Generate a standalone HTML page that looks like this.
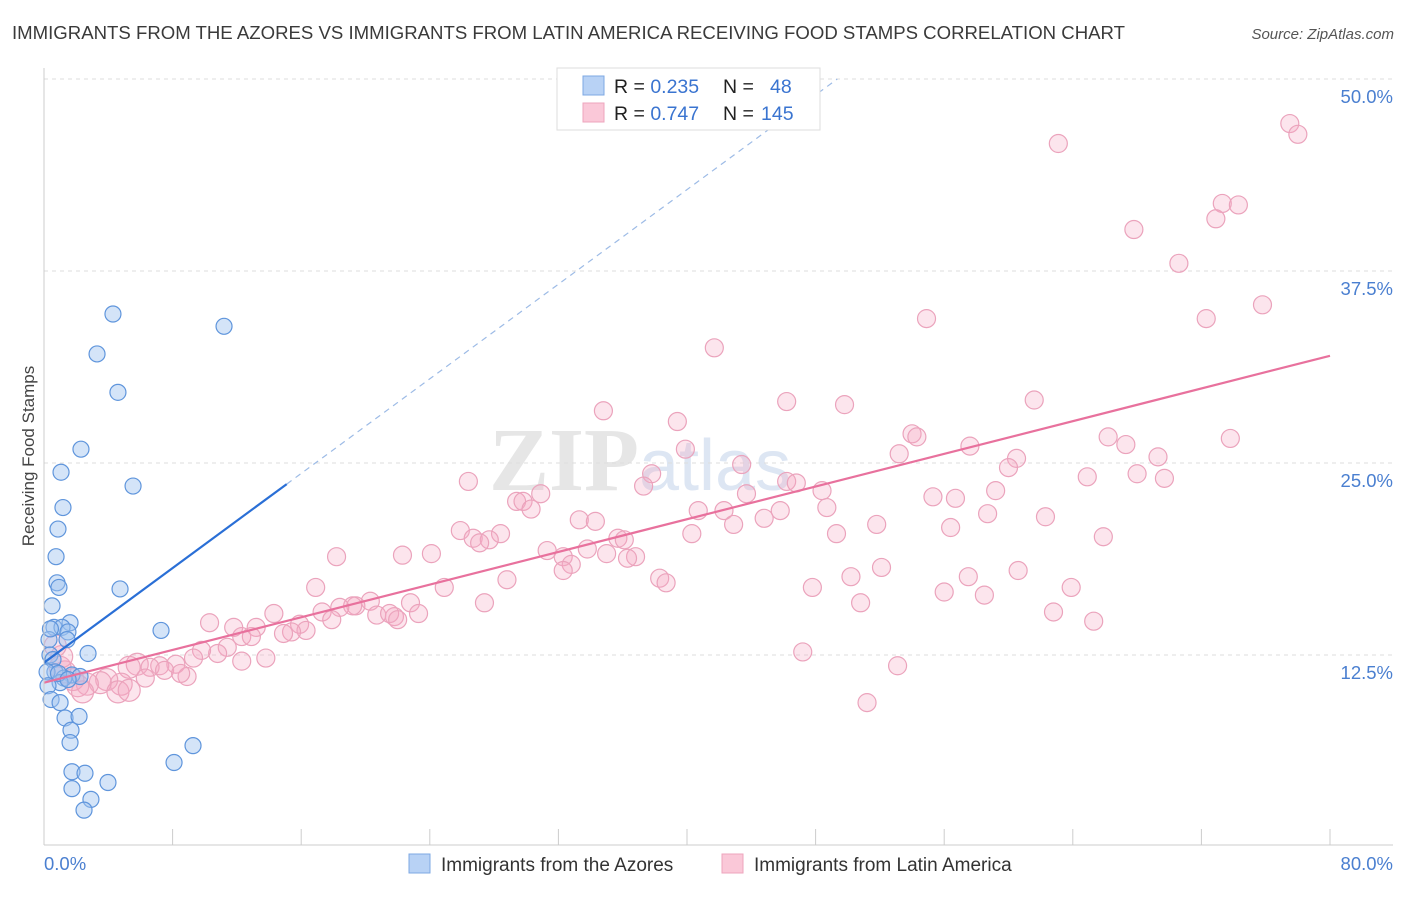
<!DOCTYPE html>
<html><head><meta charset="utf-8"><style>
body{margin:0;background:#fff;font-family:"Liberation Sans",sans-serif}
#c{position:relative;width:1406px;height:892px}
</style></head><body>
<div id="c">
<svg id="s" width="1406" height="892" xmlns="http://www.w3.org/2000/svg">
<text x="12" y="39" font-size="18.6" fill="#3a3a3a">IMMIGRANTS FROM THE AZORES VS IMMIGRANTS FROM LATIN AMERICA RECEIVING FOOD STAMPS CORRELATION CHART</text>
<text x="1394" y="39" font-size="15" fill="#555" font-style="italic" text-anchor="end">Source: ZipAtlas.com</text>
<text transform="translate(34,456) rotate(-90)" font-size="17" fill="#444" text-anchor="middle">Receiving Food Stamps</text>
<text x="640" y="490" font-size="90" fill="#e6e6e6" font-family="Liberation Serif" font-weight="bold" text-anchor="middle">ZIP<tspan fill="#dde6f3" font-family="Liberation Sans" font-weight="normal" font-size="72">atlas</tspan></text>
<g id="grid"></g><g id="pts"></g><g id="lines"></g>
<line x1="44" y1="68" x2="44" y2="845" stroke="#ccc"/>
<line x1="44" y1="845" x2="1393" y2="845" stroke="#ccc"/>
<text x="44" y="870" font-size="18.5" fill="#4a7fd0">0.0%</text>
<text x="1393" y="870" font-size="18.5" fill="#4a7fd0" text-anchor="end">80.0%</text>
<g>
<rect x="557" y="68" width="263" height="62" fill="#fff" stroke="#ddd"/>
<rect x="583" y="76" width="21" height="19" fill="#b8d2f5" stroke="#7ea8e3"/>
<rect x="583" y="103" width="21" height="19" fill="#fac8d8" stroke="#eea5bd"/>
<text x="614" y="93" font-size="19.5" fill="#222">R = <tspan fill="#3a74d0">0.235</tspan><tspan x="723">N = </tspan><tspan x="770" fill="#3a74d0">48</tspan></text>
<text x="614" y="120" font-size="19.5" fill="#222">R = <tspan fill="#3a74d0">0.747</tspan><tspan x="723">N = </tspan><tspan x="761" fill="#3a74d0">145</tspan></text>
</g>
<g>
<rect x="409" y="854" width="21" height="19" fill="#b8d2f5" stroke="#7ea8e3"/>
<text x="441" y="871" font-size="19" fill="#333">Immigrants from the Azores</text>
<rect x="722" y="854" width="21" height="19" fill="#fac8d8" stroke="#eea5bd"/>
<text x="754" y="871" font-size="19" fill="#333">Immigrants from Latin America</text>
</g>
</svg></div>
<script>
const yTicks=[12.5,25,37.5,50];
const yTickLabels=["12.5%","25.0%","37.5%","50.0%"];
const xTicks=[8,16,24,32,40,48,56,64,72,80];
const blueX=[4.29,11.2,3.3,4.6,2.3,1.06,5.54,1.18,0.87,0.75,0.81,0.93,4.73,0.5,1.62,0.62,1.12,1.49,1.43,7.28,0.31,2.74,0.37,0.56,0.68,0.19,1.74,2.24,1.24,1.0,0.25,0.44,1.0,1.31,2.18,1.68,1.62,9.27,1.74,2.55,8.09,3.98,1.74,2.92,2.49,0.4,0.9,1.5];
const blueY=[34.7,33.9,32.1,29.6,25.9,24.4,23.5,22.1,20.7,18.9,17.2,16.9,16.8,15.7,14.6,14.3,14.3,14.0,13.5,14.1,13.5,12.6,12.5,12.2,11.4,11.4,11.2,11.1,11.0,10.7,10.5,9.6,9.4,8.4,8.5,7.6,6.8,6.6,4.9,4.8,5.5,4.2,3.8,3.1,2.4,14.2,11.3,10.9];
const pinkX=[77.5,78.0,63.1,73.3,74.3,72.9,67.8,70.6,54.9,72.3,75.8,41.7,46.2,61.6,49.8,34.8,39.4,54.0,54.3,66.2,67.3,73.8,57.6,39.9,53.2,69.3,60.5,60.0,43.4,37.8,68.0,64.9,69.7,26.4,37.3,46.2,46.8,48.4,43.7,59.2,30.9,55.3,56.7,29.4,29.8,30.3,48.7,40.7,42.3,45.8,58.7,62.3,44.8,33.3,34.3,42.9,25.9,51.8,56.4,40.3,49.3,28.4,26.7,27.7,27.1,35.7,36.1,65.9,18.2,31.3,33.8,35.0,36.8,24.1,22.3,36.3,32.3,32.8,32.3,28.8,38.3,24.9,16.9,38.7,52.1,50.2,57.5,60.6,47.8,63.9,56.0,58.5,22.8,23.3,27.4,20.3,19.4,19.2,18.4,17.3,14.3,20.7,21.8,21.5,22.0,17.9,50.8,62.8,65.3,15.9,16.3,15.4,14.9,10.3,11.8,13.2,12.3,11.4,12.9,10.8,9.8,13.8,12.3,9.3,8.2,7.2,5.8,6.6,5.3,7.5,8.9,8.5,6.3,4.8,3.9,3.5,2.7,2.1,1.8,1.3,1.0,1.1,4.6,5.3,2.4,47.2,53.1,51.2,0.7];
const pinkY=[47.1,46.4,45.8,41.9,41.8,40.9,40.2,38.0,34.4,34.4,35.3,32.5,29.0,29.1,28.8,28.4,27.7,26.9,26.7,26.7,26.2,26.6,26.1,25.9,25.6,25.4,25.3,24.7,24.9,24.3,24.3,24.1,24.0,23.8,23.5,23.8,23.7,23.2,23.0,23.2,23.0,22.8,22.7,22.5,22.5,22.0,22.1,21.9,21.9,21.9,21.7,21.5,21.4,21.3,21.2,21.0,20.6,21.0,20.8,20.4,20.4,20.4,20.1,20.0,19.8,20.1,20.0,20.2,18.9,19.3,19.4,19.1,18.9,19.1,19.0,18.8,18.9,18.4,18.0,17.4,17.5,16.9,16.9,17.2,18.2,17.6,17.6,18.0,16.9,16.9,16.6,16.4,15.9,15.2,15.9,16.0,15.7,15.7,15.6,15.3,15.2,15.1,15.0,15.2,14.8,14.8,15.9,15.3,14.7,14.5,14.1,14.0,13.9,14.6,14.3,14.3,13.7,13.0,13.7,12.6,12.8,12.3,12.1,12.3,11.9,11.8,11.9,11.7,11.7,11.5,11.1,11.3,11.0,10.6,10.9,10.7,10.6,10.5,10.9,11.4,11.7,12.4,10.1,10.2,10.1,12.7,11.8,9.4,13.1];
const blueTrend=[12.0,0.77], pinkTrend=[10.7,0.266];
const X=v=>44+v*16.075, Y=v=>847-v*15.36;
const NS="http://www.w3.org/2000/svg";
function mk(t,a,p){const e=document.createElementNS(NS,t);for(const k in a)e.setAttribute(k,a[k]);p.appendChild(e);return e;}
const g=document.getElementById('grid');
yTicks.forEach((t,i)=>{
 const l=mk('line',{x1:44,x2:1393,y1:Y(t),y2:Y(t),stroke:'#ddd','stroke-dasharray':'4,4'},g);
 
 
 const tx=mk('text',{x:1393,y:Y(t)+24,'font-size':18.5,fill:'#4a7fd0','text-anchor':'end'},g);
 tx.textContent=yTickLabels[i];
 
 
});
xTicks.forEach(t=>{
 const l=mk('line',{x1:X(t),x2:X(t),y1:829,y2:845,stroke:'#ccc'},g);
 
 
});
const p=document.getElementById('pts');
pinkX.forEach((x,i)=>{
 const r=x<6?11:9;
 const c=mk('circle',{cx:X(x),cy:Y(pinkY[i]),r:r,fill:'rgba(246,170,196,0.3)',stroke:'#eba3bc','stroke-width':1.2},p);
 
 
});
blueX.forEach((x,i)=>{
 const c=mk('circle',{cx:X(x),cy:Y(blueY[i]),r:8,fill:'rgba(160,196,240,0.45)',stroke:'#5f95dc','stroke-width':1.2},p);
 
 
});
const L=document.getElementById('lines');
const bEnd=15.1, bDash=(50-blueTrend[0])/blueTrend[1];
let l1=mk('line',{x1:X(0),y1:Y(blueTrend[0]),x2:X(bEnd),y2:Y(blueTrend[0]+blueTrend[1]*bEnd),stroke:'#2a6fd6','stroke-width':2.2},L);


let l2=mk('line',{x1:X(bEnd),y1:Y(blueTrend[0]+blueTrend[1]*bEnd),x2:X(bDash),y2:Y(50),stroke:'#9dbbe6','stroke-width':1.2,'stroke-dasharray':'6,5'},L);


let l3=mk('line',{x1:X(0),y1:Y(pinkTrend[0]),x2:X(80),y2:Y(pinkTrend[0]+pinkTrend[1]*80),stroke:'#e8719d','stroke-width':2.2},L);


</script>
</body></html>
